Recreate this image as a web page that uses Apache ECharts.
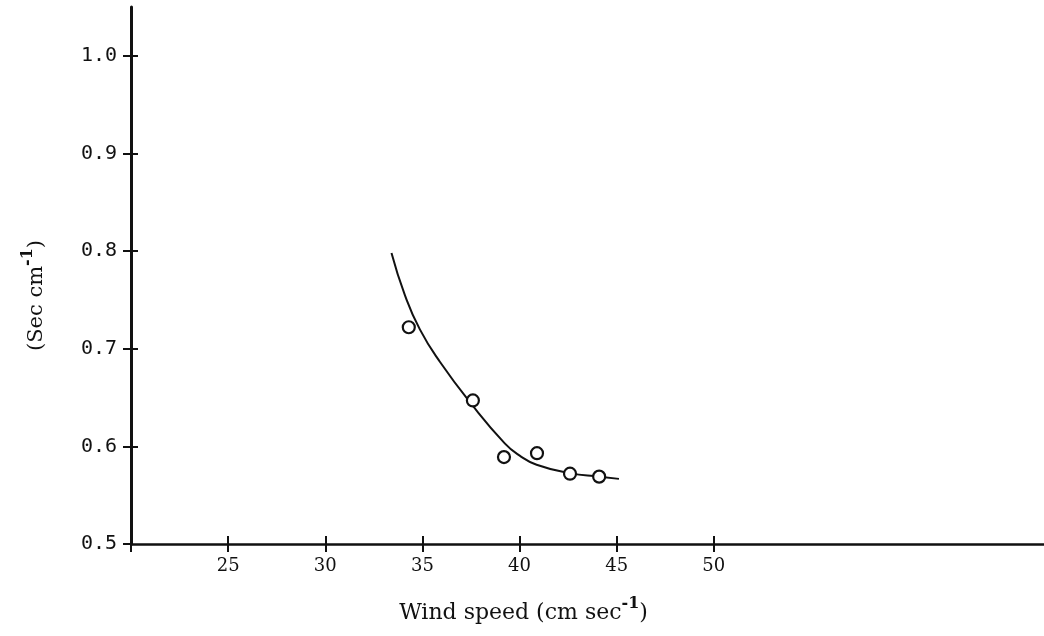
<!DOCTYPE html>
<html>
<head>
<meta charset="utf-8">
<script src="https://cdn.jsdelivr.net/npm/echarts@6/dist/echarts.min.js"></script>
<style>
  html, body { margin: 0; padding: 0; background: #fff; }
  #chart { width: 1044px; height: 636px; }
</style>
</head>
<body>
<div id="chart"></div>
<script>
// Tick positions shown on each axis
const xTickLabels = [25, 30, 35, 40, 45, 50];
const yTickLabels = [0.5, 0.6, 0.7, 0.8, 0.9, 1.0];

// Measured points: wind speed (cm/s) vs. value (sec/cm)
const windSpeed = [34.3, 37.6, 39.2, 40.9, 42.6, 44.1];
const secPerCm = [0.722, 0.647, 0.589, 0.593, 0.572, 0.569];

// Hand-fitted curve through the measurements
const curveSpeed = [33.41, 34.09, 34.87, 35.90, 37.54, 39.24, 40.01, 40.88, 42.58, 44.13, 45.12];
const curveValue = [0.798, 0.7554, 0.7198, 0.6867, 0.6429, 0.6031, 0.5905, 0.5811, 0.5726, 0.5689, 0.5667];

const ink = '#111';
const serif = 'DejaVu Serif';

const chart = echarts.init(document.getElementById('chart'), null, { renderer: 'canvas' });

const xBase = { type: 'value', min: 20, max: 67, position: 'bottom', gridIndex: 0, splitLine: { show: false } };
const yBase = { type: 'value', min: 0.5, max: 1.05, position: 'left', gridIndex: 0, splitLine: { show: false } };

const supStyle = { fontFamily: serif, fontSize: 16, fontWeight: 'bold', color: ink, padding: [0, 0, 18, 0] };

chart.setOption({
  animation: false,
  backgroundColor: '#fff',
  grid: { left: 131, right: 0, top: 7, bottom: 92 },
  xAxis: [
    Object.assign({}, xBase, {
      axisLine: { show: true, lineStyle: { color: ink, width: 2.5 } },
      axisTick: { show: true, inside: false, length: 8, lineStyle: { color: ink, width: 2 },
                  customValues: [20].concat(xTickLabels) },
      axisLabel: { show: true, customValues: xTickLabels, margin: 13, color: ink,
                   fontFamily: serif, fontSize: 18 },
      name: 'Wind speed (cm sec{sup|-1})',
      nameLocation: 'middle',
      nameGap: 52,
      nameTextStyle: {
        color: ink, fontFamily: serif, fontSize: 22, padding: [0, 128, 0, 0],
        rich: { sup: supStyle }
      }
    }),
    Object.assign({}, xBase, {
      axisLine: { show: false },
      axisTick: { show: true, inside: true, length: 8, lineStyle: { color: ink, width: 2 },
                  customValues: xTickLabels },
      axisLabel: { show: false }
    })
  ],
  yAxis: [
    Object.assign({}, yBase, {
      axisLine: { show: true, lineStyle: { color: ink, width: 3 } },
      axisTick: { show: true, inside: false, length: 8, lineStyle: { color: ink, width: 2 },
                  customValues: yTickLabels },
      axisLabel: { show: true, customValues: yTickLabels, margin: 14, color: ink,
                   fontFamily: 'DejaVu Sans Mono', fontSize: 20,
                   formatter: v => v.toFixed(1) },
      name: '(Sec cm{sup|-1})',
      nameLocation: 'middle',
      nameRotate: 90,
      nameGap: 77,
      nameTextStyle: {
        color: ink, fontFamily: serif, fontSize: 21, padding: [0, 40, 0, 0],
        rich: { sup: supStyle }
      }
    }),
    Object.assign({}, yBase, {
      axisLine: { show: false },
      axisTick: { show: true, inside: true, length: 7, lineStyle: { color: ink, width: 2 },
                  customValues: yTickLabels.slice(1) },
      axisLabel: { show: false }
    })
  ],
  series: [
    {
      type: 'line',
      xAxisIndex: 0, yAxisIndex: 0,
      data: curveSpeed.map((x, i) => [x, curveValue[i]]),
      smooth: 0.5,
      showSymbol: false,
      lineStyle: { color: ink, width: 2 },
      z: 2
    },
    {
      type: 'scatter',
      xAxisIndex: 0, yAxisIndex: 0,
      data: windSpeed.map((x, i) => [x, secPerCm[i]]),
      symbol: 'circle',
      symbolSize: 12,
      itemStyle: { color: '#fff', borderColor: ink, borderWidth: 2.2, opacity: 1 },
      z: 3
    }
  ]
});
</script>
</body>
</html>
